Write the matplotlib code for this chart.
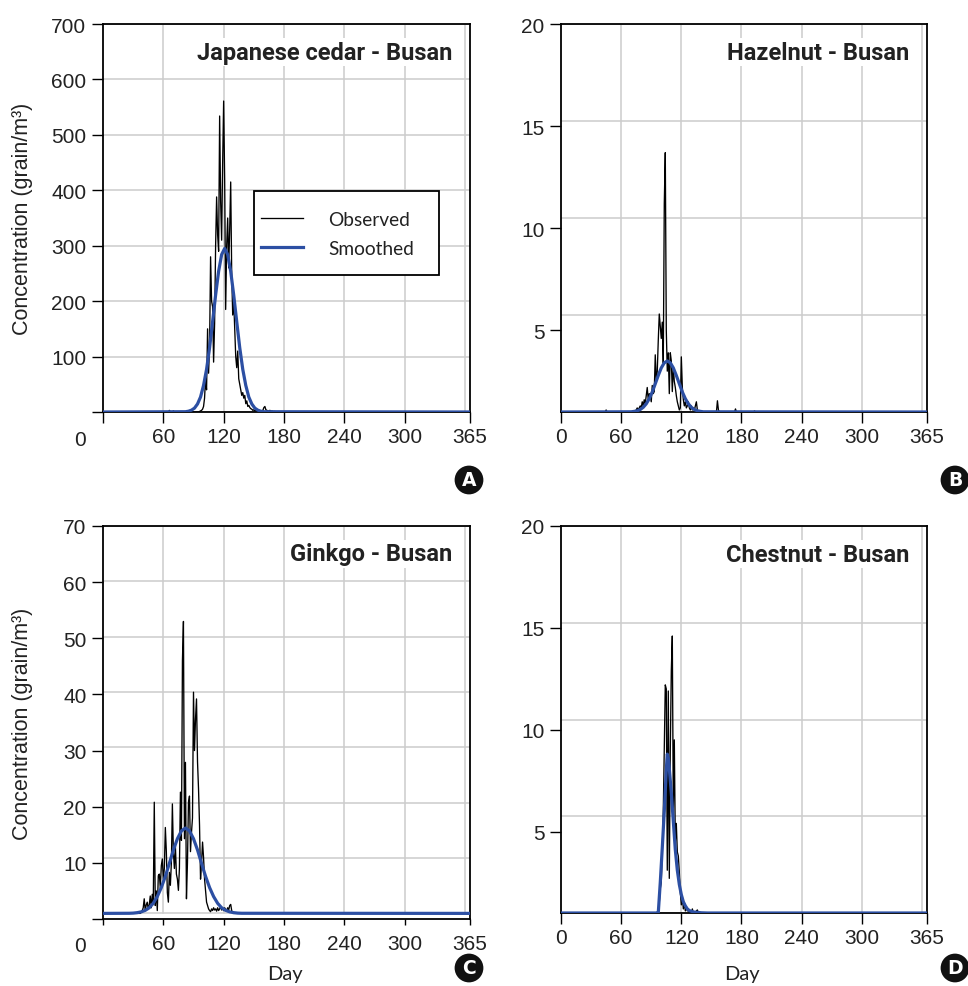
import numpy as np
import matplotlib
matplotlib.use("Agg")
import matplotlib.pyplot as plt
from matplotlib.patches import Rectangle
from matplotlib.lines import Line2D

# ---------------- data ----------------
day_ticks = [0, 60, 120, 180, 240, 300, 365]
day_tick_labels = ["0", "60", "120", "180", "240", "300", "365"]
titles = ["Japanese cedar - Busan", "Hazelnut - Busan", "Ginkgo - Busan", "Chestnut - Busan"]
panel_letters = ["A", "B", "C", "D"]
ylabel_text = "Concentration (grain/m\u00b3)"
xlabel_text = "Day"
legend_labels = ["Observed", "Smoothed"]

# A: Japanese cedar
cedar_base = 0
cedar_obs_start = 95
cedar_obs = [0, 1, 2, 3, 5, 10, 25, 60, 40, 150, 70, 120, 280, 200, 190, 90, 160, 300, 388, 320,
             290, 534, 380, 310, 450, 561, 420, 185, 300, 350, 260, 330, 415, 250, 175, 200, 150, 100,
             80, 110, 60, 50, 40, 30, 35, 25, 30, 15, 20, 10, 12, 8, 6, 5, 3, 4, 2, 3, 2, 2, 1, 2, 1,
             2, 3, 8, 10, 4, 3, 2, 2, 3, 1, 2, 1, 1, 1, 0]
cedar_blip_days = [66, 70]
cedar_blip_vals = [3, 2]
cedar_fit_days = [82, 85, 88, 91, 94, 97, 100, 103, 106, 109, 112, 115, 118, 121, 124, 127, 130,
                  133, 136, 139, 142, 145, 148, 151, 154, 157, 160]
cedar_fit = [0.5, 1.4, 3.3, 7, 14.5, 27, 48, 77, 116, 163, 211, 254, 284, 295, 284, 254, 211, 163,
             116, 77, 48, 27, 14.5, 7, 3.3, 1.4, 0.5]
cedar_yticks = [0, 100, 200, 300, 400, 500, 600, 700]
cedar_ytick_labels = ["", "100", "200", "300", "400", "500", "600", "700"]

# B: Hazelnut
hazel_base = 1
hazel_obs_start = 75
hazel_obs = [1.1, 1.2, 1.1, 1.2, 1.3, 1.2, 1.5, 1.3, 1.6, 1.4,
             1.8, 2.2, 1.6, 1.9, 1.8, 1.5, 2.3, 1.9, 2.0, 3.8,
             2.5, 3.0, 4.5, 5.8, 5.2, 4.6, 5.4, 3.4, 11.2, 13.7,
             5.0, 3.0, 3.9, 1.9, 3.9, 3.5, 2.0, 3.2, 2.5, 2.2,
             1.8, 1.5, 1.3, 1.1, 1.2, 3.7, 2.2, 1.6, 1.3, 1.5,
             1.2, 1.3, 1.5, 1.2, 1.1, 1.3, 1.1, 1.2, 1.1, 1.3,
             1.5, 1.1, 1.0]
hazel_blip_days = [45, 156, 157, 174, 193]
hazel_blip_vals = [1.1, 1.55, 1.1, 1.15, 1.05]
hazel_fit_days = [70, 73, 76, 79, 82, 85, 88, 91, 94, 97, 100, 103, 106, 109, 112, 115, 118, 121,
                  124, 127, 130, 133, 136, 139, 142]
hazel_fit = [1.01, 1.03, 1.06, 1.12, 1.23, 1.40, 1.65, 1.98, 2.38, 2.79, 3.16, 3.41, 3.50, 3.41,
             3.16, 2.79, 2.38, 1.98, 1.65, 1.40, 1.23, 1.12, 1.06, 1.03, 1.01]
hazel_yticks = [5, 10, 15, 20]
hazel_ytick_labels = ["5", "10", "15", "20"]

# C: Ginkgo
ginkgo_base = 1
ginkgo_obs_start = 38
ginkgo_obs = [1.2, 1.5, 2.0, 3.6, 1.5, 2.5, 3.0, 1.8, 2.5, 4.1,
              2.0, 4.4, 3.0, 20.8, 2.4, 5.0, 1.5, 7.7, 8.0, 5.5,
              9.5, 10.7, 7.1, 9.0, 16.3, 12.0, 4.7, 3.0, 8.3, 6.0,
              10.0, 20.5, 11.9, 9.0, 13.0, 8.0, 7.1, 5.1, 9.0, 22.6,
              14.0, 46.0, 53.0, 14.3, 27.9, 3.6, 10.0, 20.8, 21.9, 12.0,
              15.4, 18.0, 40.4, 30.0, 35.6, 39.2, 28.0, 23.2, 16.7, 7.1,
              10.0, 13.7, 11.0, 7.1, 5.0, 3.0, 2.4, 1.8, 1.5, 1.3,
              1.8, 1.5, 2.0, 1.6, 1.8, 1.4, 2.0, 1.5, 1.8, 2.2,
              1.6, 1.9, 1.5, 2.0, 1.7, 1.5, 2.0, 1.6, 2.4, 2.6,
              1.5, 1.0]
ginkgo_blip_days = []
ginkgo_blip_vals = []
ginkgo_fit_days = [26, 30, 34, 38, 42, 46, 50, 54, 58, 62, 66, 70, 74, 78, 82, 86, 90, 94, 98, 102,
                   106, 110, 114, 118, 122, 126, 130, 134, 138]
ginkgo_fit = [1.02, 1.05, 1.13, 1.27, 1.54, 2.0, 2.8, 4.0, 5.6, 7.6, 9.9, 12.3, 14.3, 15.7, 16.2,
              15.7, 14.3, 12.3, 9.9, 7.6, 5.6, 4.0, 2.8, 2.0, 1.54, 1.27, 1.13, 1.05, 1.02]
ginkgo_yticks = [0, 10, 20, 30, 40, 50, 60, 70]
ginkgo_ytick_labels = ["", "10", "20", "30", "40", "50", "60", "70"]

# D: Chestnut
chest_base = 1
chest_obs_start = 97
chest_obs = [1.0, 1.5, 2.2, 2.5, 4.0, 6.0, 9.0, 12.2, 12.0, 3.1,
             11.9, 2.7, 9.0, 12.9, 14.6, 6.0, 9.5, 4.5, 5.4, 4.0,
             3.8, 3.0, 2.0, 1.4, 1.8, 1.2, 1.5, 1.1, 1.3, 1.1,
             1.2, 1.0, 1.1, 1.0, 1.2, 1.0, 1.0, 1.0, 1.1, 1.15, 1.0]
chest_blip_days = []
chest_blip_vals = []
chest_fit_days = [96, 97, 99, 101, 103, 105, 106, 107, 108, 110, 112, 114, 116, 118, 120, 122, 124,
                  126, 128, 132, 140, 146]
chest_fit = [1.0, 1.0, 2.5, 4.2, 6.0, 8.0, 8.8, 8.6, 8.1, 6.9, 5.5, 4.1, 3.1, 2.4, 1.9, 1.55, 1.35,
             1.2, 1.12, 1.05, 1.01, 1.0]
chest_yticks = [5, 10, 15, 20]
chest_ytick_labels = ["5", "10", "15", "20"]

# ---------------- style ----------------
W, H = 968, 987
TXT = "#222222"
GRID = "#cccccc"
BLUE = "#2c4fa3"
TICK_FONT = "Liberation Sans"
HUM_FONT = "Lato"
TITLE_FONT = "Roboto"

fig = plt.figure(figsize=(W / 100, H / 100), dpi=100)


def px_rect(left, top, right, bottom):
    return [left / W, 1 - bottom / H, (right - left) / W, (bottom - top) / H]


panels = [
    dict(px=(103, 25, 470, 413), ylim=(0, 700), grid_lo=0, ngrid=7,
         base=cedar_base, start=cedar_obs_start, obs=cedar_obs, bd=cedar_blip_days, bv=cedar_blip_vals,
         fd=cedar_fit_days, fv=cedar_fit, yt=cedar_yticks, ytl=cedar_ytick_labels,
         zero_left=True, ylab=True, xlab=False, xtick_len=11, letter_xy=(469, 481)),
    dict(px=(561, 25, 927, 413), ylim=(1, 20), grid_lo=1, ngrid=4,
         base=hazel_base, start=hazel_obs_start, obs=hazel_obs, bd=hazel_blip_days, bv=hazel_blip_vals,
         fd=hazel_fit_days, fv=hazel_fit, yt=hazel_yticks, ytl=hazel_ytick_labels,
         zero_left=False, ylab=False, xlab=False, xtick_len=11, letter_xy=(955, 481)),
    dict(px=(103, 527, 470, 920), ylim=(0, 70), grid_lo=1, ngrid=7,
         base=ginkgo_base, start=ginkgo_obs_start, obs=ginkgo_obs, bd=ginkgo_blip_days, bv=ginkgo_blip_vals,
         fd=ginkgo_fit_days, fv=ginkgo_fit, yt=ginkgo_yticks, ytl=ginkgo_ytick_labels,
         zero_left=True, ylab=True, xlab=True, xtick_len=6, letter_xy=(469, 969)),
    dict(px=(561, 527, 927, 914), ylim=(1, 20), grid_lo=1, ngrid=4,
         base=chest_base, start=chest_obs_start, obs=chest_obs, bd=chest_blip_days, bv=chest_blip_vals,
         fd=chest_fit_days, fv=chest_fit, yt=chest_yticks, ytl=chest_ytick_labels,
         zero_left=False, ylab=False, xlab=True, xtick_len=11, letter_xy=(955, 969)),
]

PT = 0.72  # points per pixel at 100 dpi

for i, p in enumerate(panels):
    left, top, right, bottom = p["px"]
    ax = fig.add_axes(px_rect(left, top, right, bottom))
    ylo, yhi = p["ylim"]
    ax.set_xlim(0, 365)
    ax.set_ylim(ylo, yhi)

    # grid (drawn manually to follow the plotted box)
    glo = p["grid_lo"]
    for gx in np.arange(60, 361, 60):
        ax.plot([gx, gx], [glo, yhi], color=GRID, lw=1.1, zorder=0.5)
    for gy in np.linspace(glo, yhi, p["ngrid"] + 1):
        ax.plot([0, 365], [gy, gy], color=GRID, lw=1.1, zorder=0.5)

    # data
    days = np.arange(0, 366)
    base = p["base"]
    obs = np.full(days.shape, float(base))
    vals = np.asarray(p["obs"], float)
    obs[p["start"]:p["start"] + len(vals)] = vals
    if len(p["bd"]):
        obs[np.asarray(p["bd"])] = p["bv"]
    obs = np.maximum(obs, base)
    fit_x = np.r_[0, p["fd"], 365]
    fit_y = np.r_[base, p["fv"], base]
    ax.plot(days, obs, color="black", lw=0.95, zorder=2)
    ax.plot(fit_x, fit_y, color=BLUE, lw=2.3, zorder=3)

    # ticks
    ax.set_xticks(day_ticks)
    xl = list(day_tick_labels)
    if p["zero_left"]:
        xl[0] = ""
    ax.set_xticklabels(xl, fontfamily=TICK_FONT, fontsize=15, color=TXT)
    ax.set_yticks(p["yt"])
    ax.set_yticklabels(p["ytl"], fontfamily=TICK_FONT, fontsize=15, color=TXT)
    ax.tick_params(axis="y", direction="out", length=11 * PT, width=1.0, pad=4, colors="black",
                   labelcolor=TXT)
    xpad = 3 + (11 - p["xtick_len"]) * PT
    ax.tick_params(axis="x", direction="out", length=p["xtick_len"] * PT, width=1.0, pad=xpad,
                   colors="black", labelcolor=TXT)
    for s in ax.spines.values():
        s.set_linewidth(1.3)
        s.set_color("black")

    if p["zero_left"]:
        ax.annotate("0", xy=(0, 0), xycoords="axes fraction", xytext=(-23, -27),
                    textcoords="offset pixels", ha="center", va="center",
                    fontfamily=TICK_FONT, fontsize=15, color=TXT, annotation_clip=False)

    # title
    ax.annotate(titles[i], xy=(1, 1), xycoords="axes fraction", xytext=(-18, -28),
                textcoords="offset pixels", ha="right", va="center",
                fontfamily=TITLE_FONT, fontweight="bold", fontsize=17, color=TXT,
                bbox=dict(facecolor="white", edgecolor="none", pad=2), zorder=6)

    if p["ylab"]:
        ax.set_ylabel(ylabel_text, fontfamily=TICK_FONT, fontsize=15.5, color=TXT)
        ax.yaxis.set_label_coords(-80 / (right - left), 0.5)
        ax.yaxis.label.set_va("center")
    if p["xlab"]:
        ax.set_xlabel(xlabel_text, fontfamily=HUM_FONT, fontsize=14.5, color=TXT)
        ax.xaxis.set_label_coords(0.495, -(975 - bottom) / (bottom - top))
        ax.xaxis.label.set_va("center")

    if i == 0:
        ax.add_patch(Rectangle((0.411, 0.353), 0.505, 0.217, transform=ax.transAxes,
                               facecolor="white", edgecolor="black", lw=1.3, zorder=5))
        handles = [Line2D([], [], color="black", lw=0.95), Line2D([], [], color=BLUE, lw=2.3)]
        leg = ax.legend(handles, legend_labels, loc="center left", bbox_to_anchor=(0.4305, 0.459),
                        frameon=False, borderpad=0, borderaxespad=0, handlelength=2.2,
                        handletextpad=1.3, labelspacing=0.6,
                        prop=dict(family=HUM_FONT, size=13.8))
        for t in leg.get_texts():
            t.set_color(TXT)
        leg.set_zorder(7)

    # panel letter badge
    lx, ly = p["letter_xy"]
    fig.text(lx / W, 1 - ly / H, panel_letters[i], ha="center", va="center", color="white",
             fontfamily="DejaVu Sans", fontweight="bold", fontsize=13.5,
             bbox=dict(boxstyle="circle,pad=0.26", facecolor="#111111", edgecolor="none"))

fig.savefig("out.png", dpi=100)
